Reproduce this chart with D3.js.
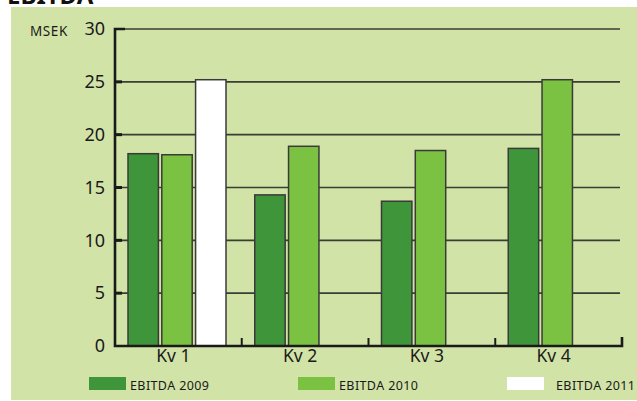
<!DOCTYPE html>
<html>
<head>
<meta charset="utf-8">
<script src="https://cdn.jsdelivr.net/npm/d3@7/dist/d3.min.js"></script>
<style>
  html, body { margin: 0; padding: 0; background: #ffffff; }
  svg { display: block; font-family: "Noto Sans", "Open Sans", sans-serif; }
</style>
</head>
<body>
<svg id="chart" width="637" height="401"></svg>
<script>
// Quarterly EBITDA, MSEK
const quarters = ["Kv 1", "Kv 2", "Kv 3", "Kv 4"];
const seriesNames = ["EBITDA 2009", "EBITDA 2010", "EBITDA 2011"];
const ebitda2009 = [18.2, 14.3, 13.7, 18.7];
const ebitda2010 = [18.1, 18.9, 18.5, 25.2];
const ebitda2011 = [25.2, null, null, null];
const yTicks = [0, 5, 10, 15, 20, 25, 30];
const seriesColors = ["#3f953a", "#7cc242", "#ffffff"];

const seriesValues = [ebitda2009, ebitda2010, ebitda2011];

const svg = d3.select("#chart");

// title above the panel
svg.append("text")
  .attr("x", 7).attr("y", 4)
  .attr("font-size", 24).attr("font-weight", "bold")
  .attr("fill", "#111")
  .text("EBITDA");

// light green panel
svg.append("rect")
  .attr("x", 11).attr("y", 7)
  .attr("width", 626).attr("height", 393)
  .attr("fill", "#d2e3a7");

const x0 = 115, x1 = 622, yTop = 29, yBottom = 346;

const x = d3.scaleBand().domain(quarters).range([x0, x1]).padding(0);
const xInner = d3.scaleBand().domain(seriesNames).range([13, 111]).paddingInner(0.1).paddingOuter(0);
const y = d3.scaleLinear().domain([0, 30]).range([yBottom, yTop]);

// horizontal gridlines
svg.append("g").selectAll("line")
  .data(yTicks.filter(d => d > 0))
  .join("line")
  .attr("x1", d => d === 30 ? x0 + 10 : x0)
  .attr("x2", 620)
  .attr("y1", d => y(d)).attr("y2", d => y(d))
  .attr("stroke", "#3a3d33").attr("stroke-width", 1.6);

// y axis: labels on the left, short inward ticks
const yAxis = d3.axisLeft(y).tickValues(yTicks).tickSize(0).tickPadding(10);
const gy = svg.append("g").attr("transform", `translate(${x0},0)`).call(yAxis);
gy.select(".domain").remove();
gy.selectAll("text")
  .attr("font-size", 18).attr("fill", "#1a1a1a")
  .attr("font-family", "Noto Sans, sans-serif");

svg.append("g").selectAll("line")
  .data(yTicks.filter(d => d > 0 && d < 30))
  .join("line")
  .attr("x1", x0).attr("x2", x0 + 7)
  .attr("y1", d => y(d)).attr("y2", d => y(d))
  .attr("stroke", "#1a1a1a").attr("stroke-width", 3);

svg.append("text")
  .attr("x", 30).attr("y", y(30) + 7)
  .attr("font-size", 13.5).attr("letter-spacing", 0.6).attr("fill", "#1a1a1a")
  .text("MSEK");

// bars
const groups = svg.append("g").selectAll("g")
  .data(quarters)
  .join("g")
  .attr("transform", d => `translate(${x(d)},0)`);

groups.selectAll("rect")
  .data((q, qi) => seriesNames.map((s, si) => ({ s, si, v: seriesValues[si][qi] })).filter(d => d.v != null))
  .join("rect")
  .attr("x", d => xInner(d.s))
  .attr("width", xInner.bandwidth())
  .attr("y", d => y(d.v))
  .attr("height", d => y(0) - y(d.v))
  .attr("fill", d => seriesColors[d.si])
  .attr("stroke", "#3a3a3a").attr("stroke-width", 1.5);

// axis frame: vertical axis with top hook, baseline with up-ticks
svg.append("path")
  .attr("d", `M${x0 + 10},${y(30)} H${x0} V${yBottom} H${x1} V${yBottom - 9}`)
  .attr("fill", "none").attr("stroke", "#1a1a1a").attr("stroke-width", 2.6);

svg.append("g").selectAll("line")
  .data(quarters.slice(1))
  .join("line")
  .attr("x1", d => x(d)).attr("x2", d => x(d))
  .attr("y1", yBottom).attr("y2", yBottom - 8)
  .attr("stroke", "#1a1a1a").attr("stroke-width", 2);

// x axis labels
const xAxis = d3.axisBottom(x).tickSize(0).tickPadding(4);
const gx = svg.append("g").attr("transform", `translate(-5,${yBottom})`).call(xAxis);
gx.select(".domain").remove();
gx.selectAll("text")
  .attr("font-size", 17.5).attr("fill", "#1a1a1a")
  .attr("font-family", "Noto Sans, sans-serif");

// legend
const legendX = [89, 298, 507];
const legendTextX = [130, 339, 556];
const legend = svg.append("g").selectAll("g")
  .data(seriesNames)
  .join("g");
legend.append("rect")
  .attr("x", (d, i) => legendX[i]).attr("y", 377)
  .attr("width", 37).attr("height", 13)
  .attr("fill", (d, i) => seriesColors[i]);
legend.append("text")
  .attr("x", (d, i) => legendTextX[i]).attr("y", 390)
  .attr("font-size", 12.5).attr("letter-spacing", 0.4).attr("fill", "#1a1a1a")
  .text(d => d);
</script>
</body>
</html>
